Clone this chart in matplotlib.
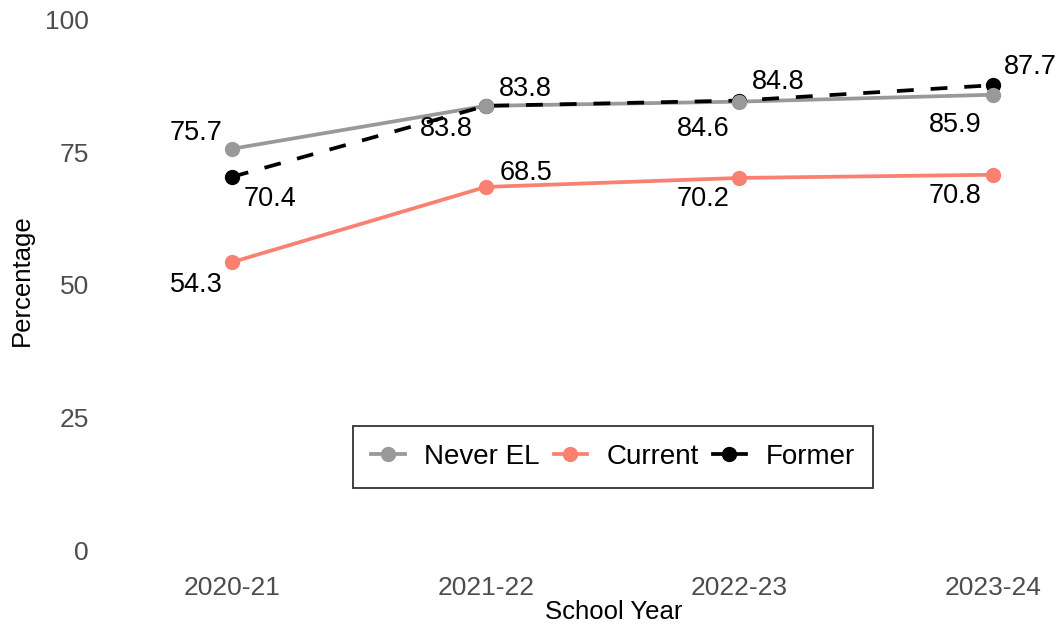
import matplotlib
matplotlib.use("Agg")
import matplotlib.pyplot as plt
from matplotlib.lines import Line2D

plt.rcParams['font.family'] = ['Liberation Sans', 'DejaVu Sans']

years = ["2020-21", "2021-22", "2022-23", "2023-24"]
never_el = [75.7, 83.8, 84.6, 85.9]
current = [54.3, 68.5, 70.2, 70.8]
former = [70.4, 83.8, 84.8, 87.7]
y_ticks = [0, 25, 50, 75, 100]

# label offsets in pixels (dx, dy) relative to the point
never_off = [(-36, 16), (40, 17), (-36, -27), (-38, -30)]
current_off = [(-36, -23), (40, 14), (-36, -21), (-38, -21)]
former_off = [(38, -22), (-39, -23), (39, 19), (37, 18)]

c_never = '#999999'
c_current = '#FA8072'
c_former = '#000000'

W, H = 1060, 628
fig = plt.figure(figsize=(W / 100, H / 100), dpi=100)
L, R, B, T = 100, 1060, 565, 5
ax = fig.add_axes([L / W, 1 - B / H, (R - L) / W, (B - T) / H])

x = list(range(len(years)))
px_per_cat = 253.7
ax.set_xlim((L - 232) / px_per_cat, (R - 232) / px_per_cat)
ppu = 5.3
ax.set_ylim(-(B - 550) / ppu, 100 + (20 - T) / ppu)

lw = 2.7
ms = 10
ax.plot(x, never_el, color=c_never, lw=lw, zorder=2)
ax.plot(x, current, color=c_current, lw=lw, zorder=2)
ax.plot(x, former, color=c_former, lw=lw, zorder=3, dashes=(4.5, 4.5))
ax.plot(x, former, 'o', color=c_former, ms=ms, zorder=4)
ax.plot(x, current, 'o', color=c_current, ms=ms, zorder=4)
ax.plot(x, never_el, 'o', color=c_never, ms=ms, zorder=5)

fs = 19.5
for vals, offs in [(never_el, never_off), (current, current_off), (former, former_off)]:
    for xi, v, (dx, dy) in zip(x, vals, offs):
        ax.annotate(f"{v:.1f}", (xi, v), xytext=(dx * 0.72, dy * 0.72),
                    textcoords='offset points', ha='center', va='center',
                    fontsize=fs, color='black', zorder=6)

for s in ax.spines.values():
    s.set_visible(False)
ax.set_xticks(x)
ax.set_xticklabels(years)
ax.set_yticks(y_ticks)
ax.tick_params(axis='both', length=0, labelsize=19, labelcolor='#4D4D4D')
ax.tick_params(axis='y', pad=8)
ax.tick_params(axis='x', pad=8)

fig.text(22 / W, 1 - 280 / H, "Percentage", rotation=90, ha='center', va='center', fontsize=18.5)
fig.text(614 / W, 1 - 612 / H, "School Year", ha='center', va='center', fontsize=18.5)

handles = [
    Line2D([], [], color=c_never, lw=lw, marker='o', ms=ms),
    Line2D([], [], color=c_current, lw=lw, marker='o', ms=ms),
    Line2D([], [], color=c_former, lw=lw, marker='o', ms=ms),
]
leg = fig.legend(handles, ["Never EL", "Current", "Former"], loc='center',
                 bbox_to_anchor=(613 / W, 1 - 457 / H), ncol=3, fontsize=20,
                 frameon=True, fancybox=False, edgecolor='black',
                 handlelength=1.2, handletextpad=0.7, columnspacing=0.5,
                 borderpad=0.65, borderaxespad=0)
leg.get_frame().set_linewidth(1.3)

fig.savefig("out.png", dpi=100)
